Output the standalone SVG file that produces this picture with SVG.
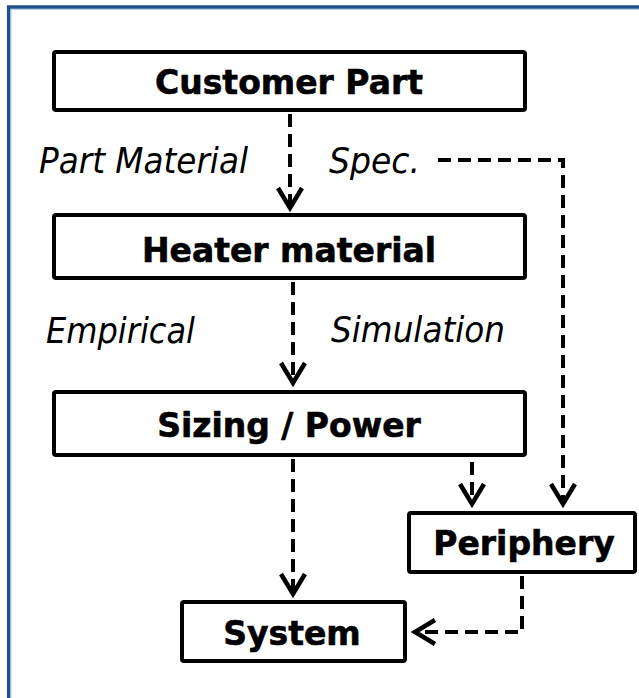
<svg xmlns="http://www.w3.org/2000/svg" width="639" height="698" viewBox="0 0 639 698">
  <style>
    .box { fill: #ffffff; stroke: #000000; stroke-width: 4; }
    .lbl { font-family: "DejaVu Sans", Verdana, sans-serif; font-weight: bold; font-size: 33px; fill: #000000; stroke: #000000; stroke-width: 0.6; text-anchor: middle; }
    .it { font-family: "DejaVu Sans", Verdana, sans-serif; font-style: italic; font-size: 35px; fill: #000000; }
    .conn { fill: none; stroke: #000000; stroke-width: 4; stroke-dasharray: 13 7; }
  </style>
  <defs>
    <marker id="arr" viewBox="-26 -15 34 30" markerUnits="userSpaceOnUse" markerWidth="34" markerHeight="30" refX="0" refY="0" orient="auto" overflow="visible">
      <path d="M-20,-12 L0,0 L-20,12" fill="none" stroke="#000000" stroke-width="4.5" stroke-linejoin="miter" stroke-miterlimit="10"/>
    </marker>
  </defs>
  <rect x="0" y="0" width="639" height="698" fill="#ffffff"/>
  <g id="frame">
    <path d="M8.7 698 V7 H639" fill="none" stroke="#23508b" stroke-width="3.6"/>
    <path d="M11 698 V9.6 H639" fill="none" stroke="#b8cce4" stroke-width="1"/>
  </g>
  <g id="connectors">
    <path class="conn" d="M290 114 V208" marker-end="url(#arr)"/>
    <path class="conn" d="M293 282 V383" marker-end="url(#arr)"/>
    <path class="conn" d="M293 459 V594" marker-end="url(#arr)"/>
    <path class="conn" d="M472 462 V504" marker-end="url(#arr)"/>
    <path class="conn" d="M438 160 H563 V504" marker-end="url(#arr)"/>
    <path class="conn" d="M522 576 V632 H415" marker-end="url(#arr)"/>
  </g>
  <g id="labels">
    <text class="it" x="39" y="173" textLength="209" lengthAdjust="spacingAndGlyphs">Part Material</text>
    <text class="it" x="329" y="173" textLength="91" lengthAdjust="spacingAndGlyphs">Spec.</text>
    <text class="it" x="46" y="343" textLength="149" lengthAdjust="spacingAndGlyphs">Empirical</text>
    <text class="it" x="331" y="342" textLength="174" lengthAdjust="spacingAndGlyphs">Simulation</text>
  </g>
  <g id="customer-part">
    <rect class="box" x="54" y="52" width="471" height="58" rx="2"/>
    <text class="lbl" x="289" y="94">Customer Part</text>
  </g>
  <g id="heater-material">
    <rect class="box" x="54" y="215" width="471" height="63" rx="2"/>
    <text class="lbl" x="289" y="262">Heater material</text>
  </g>
  <g id="sizing-power">
    <rect class="box" x="54" y="392" width="471" height="63" rx="2"/>
    <text class="lbl" x="289" y="437">Sizing / Power</text>
  </g>
  <g id="periphery">
    <rect class="box" x="409" y="513" width="226" height="59" rx="2"/>
    <text class="lbl" x="524" y="555">Periphery</text>
  </g>
  <g id="system">
    <rect class="box" x="182" y="602" width="223" height="59" rx="2"/>
    <text class="lbl" x="292" y="645">System</text>
  </g>
</svg>
